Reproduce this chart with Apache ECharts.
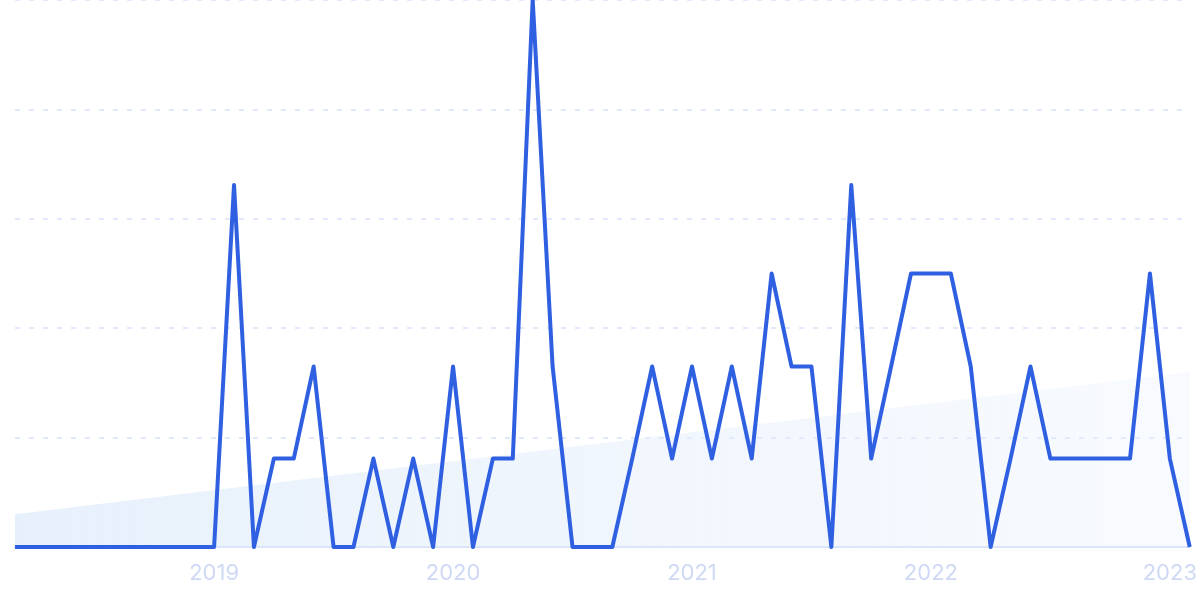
<!DOCTYPE html>
<html>
<head>
<meta charset="utf-8">
<script src="https://cdn.jsdelivr.net/npm/echarts@6/dist/echarts.min.js"></script>
<style>html,body{margin:0;padding:0;background:#fff}#c{width:1200px;height:599px}</style>
</head>
<body>
<div id="c"></div>
<script>
// Months 2018-03 .. 2023-02
const categories = [];
(function(){ let y=2018,m=3; for(let k=0;k<60;k++){ categories.push(y+'-'+String(m).padStart(2,'0')); m++; if(m>12){m=1;y++;} } })();

const values = [
  0,0,0,0,0,0,0,0,0,0,                          // 2018-03..2018-12
  0,3.97,0,0.97,0.97,1.98,0,0,0.97,0,0.97,0,    // 2019
  1.98,0,0.97,0.97,6,1.98,0,0,0,0.97,1.98,0.97, // 2020
  1.98,0.97,1.98,0.97,3,1.98,1.98,0,3.97,0.97,1.98,3, // 2021
  3,3,1.98,0,0.97,1.98,0.97,0.97,0.97,0.97,0.97,3,    // 2022
  0.97,0                                        // 2023-01..02
];

// Trend line endpoints, straight between them
const trendStart = 0.36;
const trendEnd = 1.92;
const trend = categories.map((c,i)=> i===0 ? trendStart : (i===categories.length-1 ? trendEnd : null));

const yTicks = { min: 0, max: 6, interval: 1.2 };

const chart = echarts.init(document.getElementById('c'));
chart.setOption({
  animation: false,
  grid: { left: 15, right: 10, top: 0, bottom: 52, containLabel: false },
  xAxis: {
    type: 'category',
    data: categories,
    boundaryGap: false,
    axisLine: { show: true, lineStyle: { color: '#d9e4f8', width: 2 } },
    axisTick: { show: false },
    axisLabel: {
      interval: function(i, v){ return v.endsWith('-01'); },
      formatter: function(v){ return v.slice(0,4); },
      color: '#cfd9f4',
      fontFamily: 'Inter',
      fontSize: 22,
      margin: 15
    },
    splitLine: { show: false }
  },
  yAxis: {
    type: 'value',
    min: yTicks.min, max: yTicks.max, interval: yTicks.interval,
    axisLine: { show: false },
    axisTick: { show: false },
    axisLabel: { show: false },
    splitLine: { show: true, lineStyle: { color: '#e0e9fc', type: [5, 9], width: 2 } }
  },
  series: [
    {
      type: 'line',
      data: trend,
      connectNulls: true,
      symbol: 'none',
      lineStyle: { width: 0 },
      areaStyle: {
        color: new echarts.graphic.LinearGradient(0, 0, 1, 0, [
          { offset: 0, color: 'rgba(214,230,249,0.85)' },
          { offset: 1, color: 'rgba(232,240,252,0.45)' }
        ])
      },
      z: 1
    },
    {
      type: 'line',
      data: values,
      symbol: 'none',
      lineStyle: { color: '#3060e2', width: 4, join: 'round' },
      z: 3
    }
  ]
});
</script>
</body>
</html>
